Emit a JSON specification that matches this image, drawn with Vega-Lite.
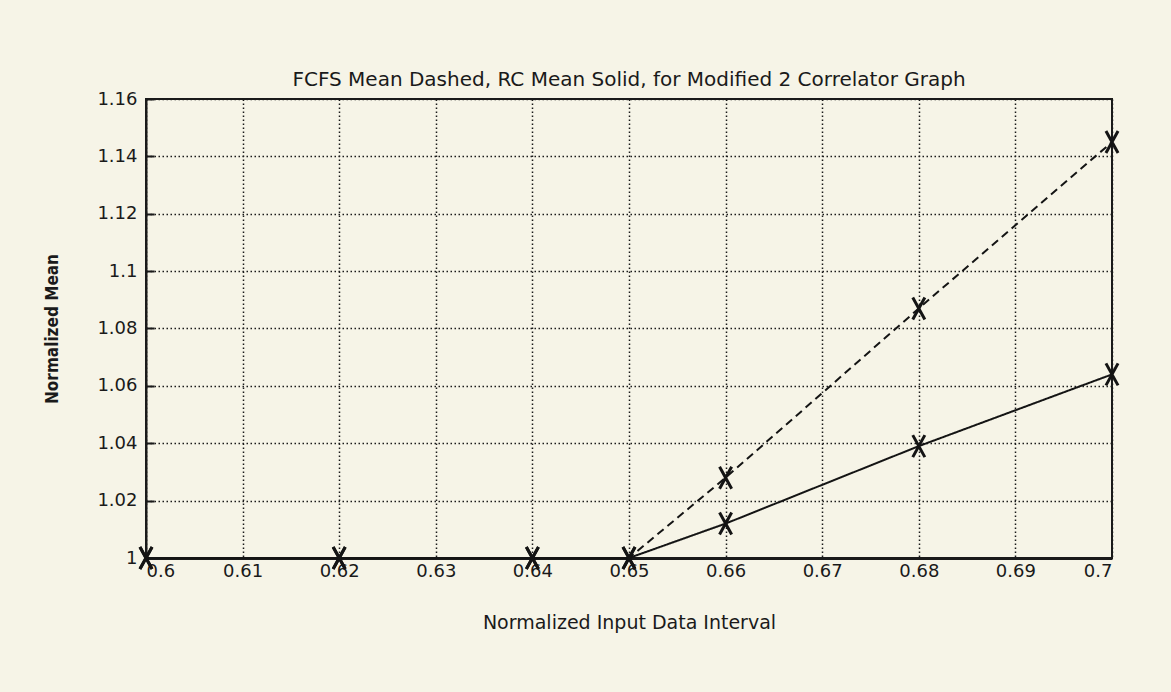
{
  "$schema": "https://vega.github.io/schema/vega-lite/v6.json",
  "autosize": {"type": "none"},
  "padding": {"left": 146, "top": 99, "right": 59, "bottom": 134},
  "width": 966,
  "height": 459,
  "background": "#f6f4e7",
  "title": {
    "text": "FCFS Mean Dashed, RC Mean Solid, for Modified 2 Correlator Graph",
    "anchor": "middle",
    "frame": "group",
    "offset": 0,
    "font": "DejaVu Sans",
    "fontSize": 20,
    "fontWeight": "normal",
    "color": "#1a1a1a"
  },
  "data": {
    "values": [
      {"interval": 0.6, "mean": 1.0, "series": "FCFS"},
      {"interval": 0.62, "mean": 1.0, "series": "FCFS"},
      {"interval": 0.64, "mean": 1.0, "series": "FCFS"},
      {"interval": 0.65, "mean": 1.0, "series": "FCFS"},
      {"interval": 0.66, "mean": 1.028, "series": "FCFS"},
      {"interval": 0.68, "mean": 1.087, "series": "FCFS"},
      {"interval": 0.7, "mean": 1.145, "series": "FCFS"},
      {"interval": 0.6, "mean": 1.0, "series": "RC"},
      {"interval": 0.62, "mean": 1.0, "series": "RC"},
      {"interval": 0.64, "mean": 1.0, "series": "RC"},
      {"interval": 0.65, "mean": 1.0, "series": "RC"},
      {"interval": 0.66, "mean": 1.012, "series": "RC"},
      {"interval": 0.68, "mean": 1.039, "series": "RC"},
      {"interval": 0.7, "mean": 1.064, "series": "RC"}
    ]
  },
  "encoding": {
    "x": {
      "field": "interval",
      "type": "quantitative",
      "scale": {"domain": [0.6, 0.7], "nice": false, "zero": false},
      "axis": {
        "title": "Normalized Input Data Interval",
        "values": [0.6, 0.61, 0.62, 0.63, 0.64, 0.65, 0.66, 0.67, 0.68, 0.69, 0.7],
        "format": "~g",
        "ticks": false,
        "labelPadding": 4,
        "domainWidth": 3,
        "titleY": 64,
        "titleBaseline": "middle",
        "titleFontSize": 19
      }
    },
    "y": {
      "field": "mean",
      "type": "quantitative",
      "scale": {"domain": [1, 1.16], "nice": false, "zero": false},
      "axis": {
        "title": "Normalized Mean",
        "values": [1, 1.02, 1.04, 1.06, 1.08, 1.1, 1.12, 1.14, 1.16],
        "format": "~g",
        "ticks": true,
        "tickSize": -8,
        "tickWidth": 2,
        "tickColor": "#1a1a1a",
        "labelPadding": 17,
        "domainWidth": 2,
        "titleX": -94,
        "titleY": 229.5,
        "titleAngle": -90,
        "titleBaseline": "middle",
        "titleFont": "DejaVu Sans Condensed, Liberation Sans Narrow, DejaVu Sans",
        "titleFontSize": 17,
        "titleFontWeight": "bold"
      }
    }
  },
  "layer": [
    {
      "mark": {"type": "line", "color": "#141414", "strokeWidth": 2},
      "encoding": {
        "detail": {"field": "series"},
        "strokeDash": {
          "field": "series",
          "type": "nominal",
          "scale": {"domain": ["FCFS", "RC"], "range": [[8, 5], [1, 0]]},
          "legend": null
        }
      }
    },
    {
      "mark": {
        "type": "point",
        "shape": "M-0.55,-1L0.55,1M0.55,-1L-0.55,1",
        "size": 484,
        "filled": false,
        "stroke": "#141414",
        "strokeWidth": 3,
        "opacity": 1
      },
      "encoding": {"detail": {"field": "series"}}
    }
  ],
  "config": {
    "view": {"stroke": "#1a1a1a", "strokeWidth": 2},
    "axis": {
      "domainColor": "#1a1a1a",
      "grid": true,
      "gridColor": "#1a1a1a",
      "gridDash": [1.5, 2.5],
      "gridWidth": 1.5,
      "gridOpacity": 1,
      "labelFont": "DejaVu Sans",
      "labelFontSize": 18,
      "labelColor": "#1a1a1a",
      "titleFont": "DejaVu Sans",
      "titleFontSize": 15,
      "titleFontWeight": "normal",
      "titleColor": "#1a1a1a"
    }
  }
}
